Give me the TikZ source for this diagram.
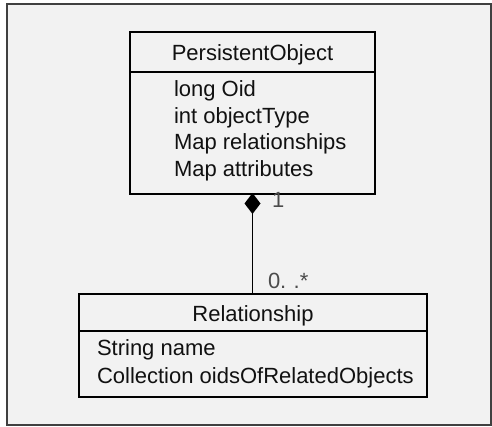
\documentclass[tikz,border=0pt]{standalone}
\usepackage{fontspec}
\setmainfont{Liberation Sans}
\usetikzlibrary{arrows.meta}
\definecolor{bgc}{HTML}{F2F2F2}
\definecolor{framec}{HTML}{404040}
\definecolor{txtc}{HTML}{111111}
\begin{document}
\begin{tikzpicture}[x=1pt,y=-1pt,
  umlbox/.style={draw=black,line width=1.8pt,inner sep=0pt,outer sep=0pt},
  umltxt/.style={inner sep=0pt,outer sep=0pt,text=txtc,font=\fontsize{22}{26}\selectfont},
  attr/.style={umltxt,anchor=base west},
  ttl/.style={umltxt,anchor=base},
  mult/.style={umltxt,anchor=base west,text=black!70}]
\useasboundingbox (0,0) rectangle (492,427);
\fill[white] (0,0) rectangle (492,427);
\draw[draw=framec,fill=bgc,line width=2pt] (7,4) rectangle (491,425);
% PersistentObject class
\node[umlbox,minimum width=245pt,minimum height=162pt] (po) at (252.5,113) {};
\draw[line width=1.8pt] (130,72) -- (375,72);
\node[ttl] (potitle) at (252.5,60.5) {PersistentObject};
\node[attr] (poa1) at (174,97) {long Oid};
\node[attr] (poa2) at (174,123.5) {int objectType};
\node[attr] (poa3) at (174,150) {Map relationships};
\node[attr] (poa4) at (174,176.5) {Map attributes};
% Relationship class
\node[umlbox,minimum width=348pt,minimum height=103pt] (rel) at (253,345.5) {};
\draw[line width=1.8pt] (79,331) -- (427,331);
\node[ttl] (reltitle) at (253,321) {Relationship};
\node[attr] (rela1) at (97,355.5) {String name};
\node[attr] (rela2) at (97,383) {Collection oidsOfRelatedObjects};
% composition
\coordinate (ctop) at (252.5,193);
\coordinate (cbot) at (252.5,294);
\draw[line width=1.8pt,{Diamond[width=16pt,length=21pt,fill=black]}-] (ctop) -- (cbot);
\node[mult] (m1) at (272,208) {1};
\node[mult] (m2) at (268,289) {0.\,\,.*};
\end{tikzpicture}
\end{document}
